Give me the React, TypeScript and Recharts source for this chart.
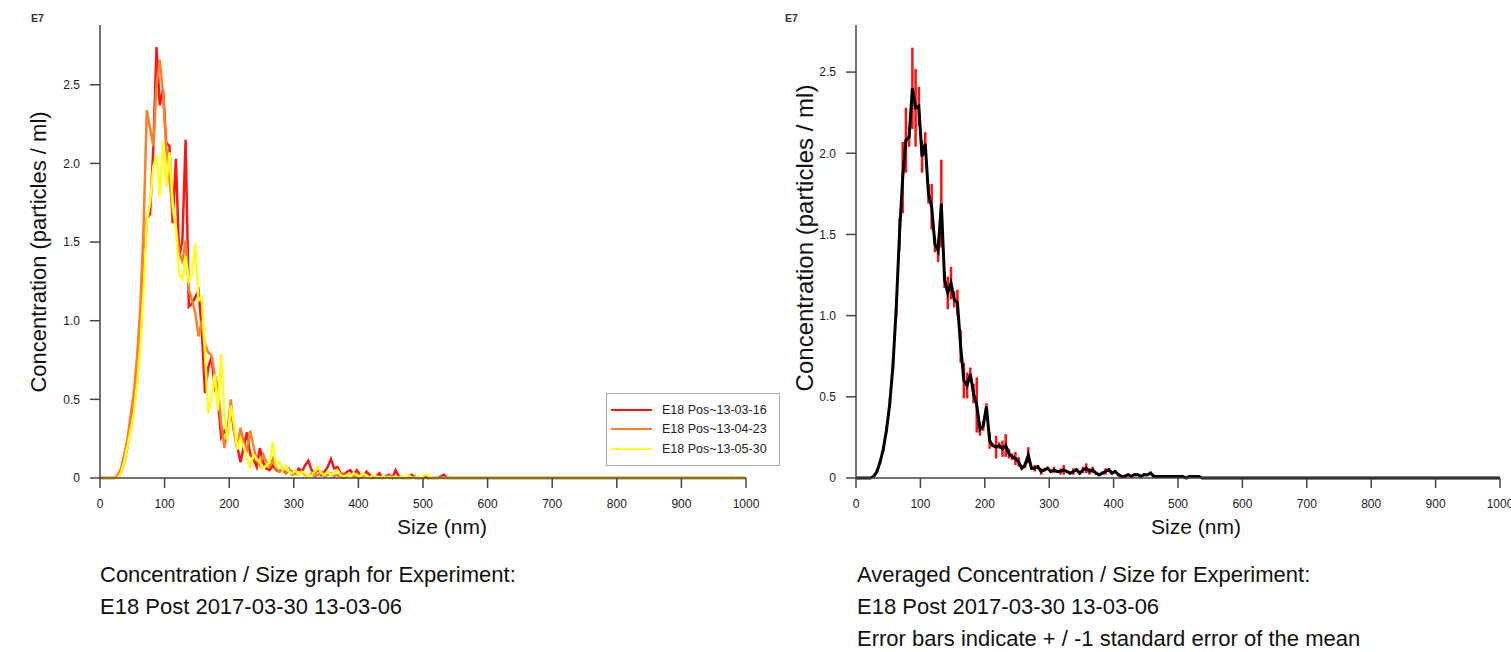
import React from "react";
import { LineChart, Line, XAxis, YAxis, ErrorBar } from "recharts";

// particle size bins (nm), values are concentration in E7 particles / ml
const sizes = [
  0, 2.5, 7.5, 12.5, 17.5, 22.5, 27.5, 32.5, 37.5, 42.5,
  47.5, 52.5, 57.5, 62.5, 67.5, 72.5, 77.5, 82.5, 87.5, 92.5,
  97.5, 102.5, 107.5, 112.5, 117.5, 122.5, 127.5, 132.5, 137.5, 142.5,
  147.5, 152.5, 157.5, 162.5, 167.5, 172.5, 177.5, 182.5, 187.5, 192.5,
  197.5, 202.5, 207.5, 212.5, 217.5, 222.5, 227.5, 232.5, 237.5, 242.5,
  247.5, 252.5, 257.5, 262.5, 267.5, 272.5, 277.5, 282.5, 287.5, 292.5,
  297.5, 302.5, 307.5, 312.5, 317.5, 322.5, 327.5, 332.5, 337.5, 342.5,
  347.5, 352.5, 357.5, 362.5, 367.5, 372.5, 377.5, 382.5, 387.5, 392.5,
  397.5, 402.5, 407.5, 412.5, 417.5, 422.5, 427.5, 432.5, 437.5, 442.5,
  447.5, 452.5, 457.5, 462.5, 467.5, 472.5, 477.5, 482.5, 487.5, 492.5,
  497.5, 502.5, 507.5, 512.5, 517.5, 522.5, 527.5, 532.5, 537.5, 1000,
];

const pos1 = [
  0, 0, 0, 0, 0, 0, 0.01, 0.03, 0.1, 0.2,
  0.32, 0.45, 0.62, 0.9, 1.3, 1.65, 1.68, 2.09, 2.74, 2.37,
  2.47, 2.13, 2.11, 1.62, 2.03, 1.41, 1.51, 2.15, 1.09, 1.11,
  1.15, 1.19, 0.95, 0.54, 0.7, 0.77, 0.58, 0.5, 0.26, 0.3,
  0.27, 0.46, 0.3, 0.2, 0.1, 0.2, 0.29, 0.15, 0.12, 0.07,
  0.19, 0.1, 0.06, 0.05, 0.08, 0.05, 0.04, 0.06, 0.03, 0.05,
  0.04, 0.03, 0.06, 0.04, 0.08, 0.11, 0.05, 0.03, 0.06, 0.02,
  0.04, 0.07, 0.12, 0.06, 0.07, 0.03, 0.02, 0.04, 0.05, 0.02,
  0.05, 0.02, 0.01, 0.04, 0.02, 0.01, 0.01, 0.03, 0, 0.01,
  0.02, 0, 0.05, 0.01, 0, 0, 0.01, 0.02, 0, 0,
  0, 0.01, 0, 0, 0, 0, 0.01, 0.02, 0, 0,
];

const pos2 = [
  0, 0, 0, 0, 0, 0, 0.02, 0.06, 0.15, 0.25,
  0.4, 0.55, 0.78, 1.09, 1.6, 2.34, 2.22, 2.11, 2.5, 2.66,
  2.45, 2.1, 1.9, 1.7, 1.6, 1.43, 1.38, 1.51, 1.2, 1.13,
  1.05, 0.9, 1.0, 0.85, 0.8, 0.78, 0.66, 0.57, 0.35, 0.19,
  0.3, 0.5, 0.3, 0.18, 0.32, 0.22, 0.18, 0.3, 0.2, 0.12,
  0.08, 0.15, 0.1, 0.07, 0.12, 0.06, 0.04, 0.05, 0.03, 0.06,
  0.02, 0.03, 0.02, 0.04, 0.02, 0.01, 0.03, 0.01, 0.02, 0.04,
  0.01, 0.02, 0.03, 0.01, 0.02, 0.01, 0, 0.01, 0.02, 0.01,
  0.01, 0, 0.01, 0.01, 0, 0, 0.01, 0, 0, 0.01,
  0, 0.01, 0, 0, 0.01, 0, 0, 0, 0.01, 0,
  0, 0, 0, 0, 0, 0, 0, 0, 0, 0,
];

const pos3 = [
  0, 0, 0, 0, 0, 0, 0, 0.03, 0.1, 0.2,
  0.3, 0.42, 0.6, 0.85, 1.2, 1.64, 1.75, 1.98, 2.05, 1.79,
  2.14, 1.85, 2.07, 1.75, 1.58, 1.3, 1.26, 1.41, 1.25, 1.3,
  1.49, 1.13, 1.15, 0.8, 0.41, 0.5, 0.66, 0.43, 0.79, 0.4,
  0.24, 0.46, 0.35, 0.18, 0.25, 0.2, 0.12, 0.07, 0.15, 0.12,
  0.1, 0.06, 0.08, 0.1, 0.23, 0.08, 0.1, 0.05, 0.08, 0.04,
  0.03, 0.05, 0.02, 0.04, 0.03, 0.01, 0.02, 0.04, 0.07, 0.03,
  0.02, 0.04, 0.02, 0.03, 0.05, 0.02, 0.01, 0.02, 0.01, 0.03,
  0.02, 0.01, 0.03, 0.01, 0, 0.02, 0.01, 0, 0.01, 0,
  0.01, 0, 0.01, 0, 0.01, 0, 0.02, 0, 0, 0.01,
  0, 0.02, 0.02, 0, 0, 0, 0, 0, 0, 0,
];

const meanConc = [
  0, 0, 0, 0, 0, 0, 0.01, 0.04, 0.1, 0.18,
  0.3, 0.46, 0.7, 1.05, 1.5, 1.85, 2.08, 2.1, 2.4, 2.28,
  2.29, 1.98, 2.06, 1.75, 1.67, 1.44, 1.4, 1.69, 1.22, 1.14,
  1.2, 1.1, 1.08, 0.81, 0.6, 0.57, 0.64, 0.52, 0.45, 0.3,
  0.32, 0.44, 0.23, 0.2, 0.19, 0.2, 0.18, 0.2, 0.15, 0.13,
  0.12, 0.1, 0.06, 0.08, 0.14, 0.06, 0.06, 0.07, 0.04, 0.05,
  0.06, 0.04, 0.05, 0.04, 0.04, 0.05, 0.04, 0.03, 0.04, 0.05,
  0.03, 0.05, 0.06, 0.04, 0.05, 0.03, 0.02, 0.03, 0.04, 0.05,
  0.03, 0.04, 0.02, 0.01, 0.01, 0.02, 0.01, 0.02, 0.02, 0.01,
  0.02, 0.02, 0.03, 0.01, 0.01, 0.01, 0.01, 0.01, 0.01, 0.01,
  0.01, 0.01, 0.01, 0, 0.01, 0.01, 0.01, 0.01, 0, 0,
];

const semConc = [
  0, 0, 0, 0, 0, 0, 0, 0.01, 0.01, 0.02,
  0.02, 0.03, 0.04, 0.06, 0.1, 0.22, 0.2, 0.06, 0.25, 0.24,
  0.12, 0.1, 0.07, 0.06, 0.14, 0.05, 0.07, 0.27, 0.05, 0.1,
  0.1, 0.05, 0.08, 0.1, 0.11, 0.08, 0.04, 0.06, 0.17, 0.04,
  0.03, 0.02, 0.05, 0.01, 0.07, 0.02, 0.05, 0.07, 0.03, 0.02,
  0.04, 0.03, 0.01, 0.02, 0.05, 0.01, 0.02, 0.01, 0.02, 0.01,
  0.01, 0.01, 0.02, 0.01, 0.02, 0.03, 0.01, 0.01, 0.02, 0.01,
  0.01, 0.02, 0.03, 0.02, 0.02, 0.01, 0.01, 0.01, 0.02, 0.01,
  0.01, 0.01, 0.01, 0.01, 0.01, 0, 0, 0.01, 0.01, 0,
  0.01, 0.01, 0.01, 0, 0, 0, 0, 0, 0, 0,
  0, 0, 0, 0, 0, 0, 0, 0, 0, 0,
];

const seriesNames = ["E18 Pos~13-03-16", "E18 Pos~13-04-23", "E18 Pos~13-05-30"];
const seriesColors = ["#ff1414", "#ff7f24", "#ffff1e"];

const xTicks = [0, 100, 200, 300, 400, 500, 600, 700, 800, 900, 1000];
const yTicks = [0, 0.5, 1, 1.5, 2, 2.5];

const data = sizes.map((size, i) => ({
  size,
  a: pos1[i],
  b: pos2[i],
  c: pos3[i],
  mean: meanConc[i],
  err: semConc[i],
}));

const FONT = '"Liberation Sans", Arial, Helvetica, sans-serif';
const axisStroke = { stroke: "#444", strokeWidth: 1.5 };
const tickStyle = { fontSize: 12, fill: "#1a1a1a", fontFamily: FONT };

const fmtY = (v: number) => (v === 0 ? "0" : v.toFixed(1));

function Axes({ yMax }: { yMax: number }) {
  return (
    <>
      <XAxis
        dataKey="size"
        type="number"
        domain={[0, 1000]}
        ticks={xTicks}
        interval={0}
        height={62}
        tick={tickStyle}
        tickSize={10}
        tickMargin={11}
        axisLine={axisStroke}
        tickLine={axisStroke}
      />
      <YAxis
        type="number"
        domain={[0, yMax]}
        ticks={yTicks}
        width={100}
        tick={tickStyle}
        tickSize={10}
        tickMargin={10}
        tickFormatter={fmtY}
        axisLine={axisStroke}
        tickLine={axisStroke}
      />
    </>
  );
}

const text = (extra: React.CSSProperties): React.CSSProperties => ({
  position: "absolute",
  whiteSpace: "nowrap",
  fontFamily: FONT,
  color: "#111",
  ...extra,
});

export default function App() {
  return (
    <div
      style={{
        position: "absolute",
        left: 0,
        top: 0,
        width: 1511,
        height: 652,
        overflow: "hidden",
        background: "#fff",
        fontFamily: FONT,
      }}
    >
      {/* left: the three runs */}
      <div style={{ position: "absolute", left: 0, top: 0 }}>
        <LineChart width={760} height={540} data={data} margin={{ top: 25, right: 14, bottom: 0, left: 0 }}>
          <Axes yMax={2.88} />
          {["a", "b", "c"].map((k, i) => (
            <Line
              key={k}
              dataKey={k}
              type="linear"
              stroke={seriesColors[i]}
              strokeWidth={2.5}
              dot={false}
              isAnimationActive={false}
            />
          ))}
        </LineChart>
      </div>

      {/* right: averaged with error bars */}
      <div style={{ position: "absolute", left: 756, top: 0 }}>
        <LineChart width={760} height={540} data={data} margin={{ top: 25, right: 16, bottom: 0, left: 0 }}>
          <Axes yMax={2.79} />
          <Line dataKey="mean" type="linear" stroke="none" dot={false} isAnimationActive={false}>
            <ErrorBar dataKey="err" direction="y" width={0} stroke="#ff1010" strokeWidth={2.5} />
          </Line>
          <Line dataKey="mean" type="linear" stroke="#000" strokeWidth={3} dot={false} isAnimationActive={false} />
        </LineChart>
      </div>

      {/* legend */}
      <div
        style={{
          position: "absolute",
          left: 606,
          top: 393,
          width: 172,
          height: 71,
          border: "1px solid #a8a8a8",
          background: "#fff",
        }}
      >
        {seriesNames.map((n, i) => (
          <div key={n} style={{ position: "absolute", left: 4, top: 8 + i * 19.3, height: 16, display: "flex", alignItems: "center" }}>
            <div style={{ width: 41, height: 2, background: seriesColors[i] }} />
            <span style={{ marginLeft: 10, fontSize: 12.5, color: "#222" }}>{n}</span>
          </div>
        ))}
      </div>

      {/* exponent markers */}
      <div style={text({ left: 31, top: 12, fontSize: 10.5, fontWeight: 700, color: "#333" })}>E7</div>
      <div style={text({ left: 785, top: 12, fontSize: 10.5, fontWeight: 700, color: "#333" })}>E7</div>

      {/* axis titles */}
      <div style={text({ left: 39, top: 252, fontSize: 22, transform: "translate(-50%,-50%) rotate(-90deg)" })}>
        Concentration (particles / ml)
      </div>
      <div style={text({ left: 805, top: 238, fontSize: 24, transform: "translate(-50%,-50%) rotate(-90deg)" })}>
        Concentration (particles / ml)
      </div>
      <div style={text({ left: 442, top: 527, fontSize: 21, transform: "translate(-50%,-50%)" })}>Size (nm)</div>
      <div style={text({ left: 1196, top: 527, fontSize: 21, transform: "translate(-50%,-50%)" })}>Size (nm)</div>

      {/* captions */}
      <div style={text({ left: 100, top: 559, fontSize: 22, lineHeight: "32px" })}>
        Concentration / Size graph for Experiment:
        <br />
        E18 Post 2017-03-30 13-03-06
      </div>
      <div style={text({ left: 857, top: 559, fontSize: 22, lineHeight: "32px" })}>
        Averaged Concentration / Size for Experiment:
        <br />
        E18 Post 2017-03-30 13-03-06
        <br />
        Error bars indicate + / -1 standard error of the mean
      </div>
    </div>
  );
}
